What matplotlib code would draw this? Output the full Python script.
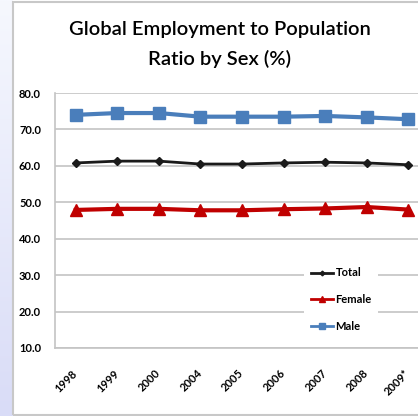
import numpy as np
import matplotlib
matplotlib.use("Agg")
import matplotlib.pyplot as plt
from matplotlib.patches import Rectangle

years = ['1998', '1999', '2000', '2004', '2005', '2006', '2007', '2008', '2009*']
total = [60.8, 61.3, 61.3, 60.5, 60.5, 60.8, 61.0, 60.8, 60.3]
female = [47.9, 48.2, 48.2, 47.8, 47.8, 48.1, 48.3, 48.7, 48.0]
male = [74.0, 74.5, 74.5, 73.5, 73.5, 73.5, 73.7, 73.3, 72.8]
yticks = [10, 20, 30, 40, 50, 60, 70, 80]

plt.rcParams['font.family'] = ['Lato', 'DejaVu Sans']

fig = plt.figure(figsize=(4.18, 4.16), dpi=100)
fig.patch.set_facecolor('white')

# lavender strip on the left, slide-like
grad = np.linspace(0, 1, 256).reshape(-1, 1)
bg = fig.add_axes([0, 0, 13 / 418, 1])
bg.imshow(grad, aspect='auto', cmap=matplotlib.colors.LinearSegmentedColormap.from_list(
    'lav', ['#f6f8fe', '#d9dcf7']), extent=[0, 1, 0, 1], origin='upper')
bg.axis('off')

# panel border
fig.add_artist(Rectangle((13 / 418, 1.5 / 416), 1.2, 1 - 3.5 / 416, transform=fig.transFigure,
                         fill=False, edgecolor='#c8c8c8', linewidth=1.5))

x = np.arange(len(years))
# plot area: left x=55, right beyond the figure edge, y from 93 to 348 px
left = 55 / 418
right = 429 / 418
bottom = 1 - 348 / 416
top = 1 - 93 / 416
ax = fig.add_axes([left, bottom, right - left, top - bottom])
ax.set_xlim(-0.5, len(years) - 0.5)
ax.set_ylim(10, 80)
ax.set_yticks(yticks)
ax.set_yticklabels([f'{v:.1f}' for v in yticks], fontsize=8, fontweight='bold')
ax.yaxis.grid(True, color='#c4c4c4', linewidth=1.2)
ax.set_axisbelow(True)
ax.tick_params(axis='y', length=0, pad=10)
ax.set_xticks(x)
ax.set_xticklabels(years, rotation=45, fontsize=8, fontweight='bold',
                   ha='right', va='center', rotation_mode='anchor')
ax.tick_params(axis='x', length=0, pad=17)
for s in ['top', 'right']:
    ax.spines[s].set_visible(False)
for s in ['left', 'bottom']:
    ax.spines[s].set_color('#c4c4c4')
    ax.spines[s].set_linewidth(1.2)

ax.plot(x, total, color='#1a1a1a', marker='D', markersize=4, linewidth=2, label='Total')
ax.plot(x, female, color='#c00000', marker='^', markersize=8, linewidth=3, label='Female')
ax.plot(x, male, color='#4a7ebb', marker='s', markersize=8, linewidth=3, label='Male')

leg = ax.legend(loc='center left', bbox_to_anchor=(0.652, 0.19), frameon=True, fancybox=False,
                edgecolor='none', facecolor='white', framealpha=1, handlelength=2.0,
                handletextpad=0.2, labelspacing=1.4, prop={'size': 8, 'weight': 'bold'},
                markerscale=0.6, borderpad=0.6)
for h in leg.legend_handles:
    h.set_linewidth(2)

fig.text(220 / 418, 1 - 30 / 416, 'Global Employment to Population', ha='center', va='center',
         fontsize=14.5, fontweight='semibold')
fig.text(220 / 418, 1 - 59 / 416, 'Ratio by Sex (%)', ha='center', va='center',
         fontsize=14.5, fontweight='semibold')

fig.savefig('out.png', dpi=100)
